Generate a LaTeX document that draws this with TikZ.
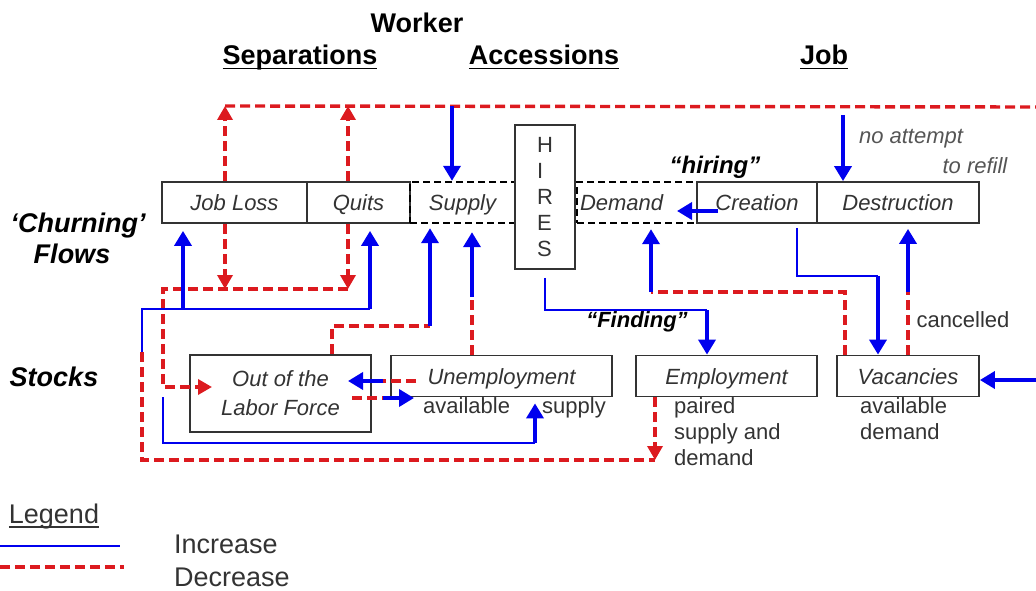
\documentclass[tikz,border=0pt]{standalone}
\usepackage{fontspec}
\setmainfont{Liberation Sans}
\usetikzlibrary{arrows.meta}
\definecolor{lmInk}{HTML}{333333}
\definecolor{lmBlue}{HTML}{0000EE}
\definecolor{lmRed}{HTML}{DC1A1F}
\definecolor{lmGray}{HTML}{555555}
\newcommand\lmbox{\fontsize{22}{26}\selectfont}
\newcommand\lmhead{\fontsize{27}{32}\selectfont}
\newcommand\lmuline[1]{\setbox0\hbox{#1}\rlap{\rule[-4.5pt]{\wd0}{1.8pt}}\box0}
\tikzset{
  every picture/.style={font=\lmbox, text=lmInk},
  lm box/.style={draw=lmInk, line width=1.8pt, inner sep=0pt, fill=white,
    font=\lmbox\itshape},
  lm row/.style={lm box, minimum height=41pt, text height=16pt, text depth=0pt},
  lm pool/.style={draw=black, fill=none, line width=2.4pt, dash pattern=on 7pt off 4pt},
  lm head/.style={font=\lmhead\bfseries, text=black, inner sep=0pt, anchor=base},
  lm tag/.style={font=\lmhead\bfseries\itshape, text=black, inner sep=0pt, anchor=base},
  lm note/.style={font=\lmbox, inner sep=0pt, align=left},
  lm inc/.style={draw=lmBlue, line width=1.6pt},
  lm up/.style={draw=lmBlue, line width=3.6pt, line cap=butt,
    -{Triangle[length=15pt,width=17pt]}},
  lm dec/.style={draw=lmRed, line width=3.4pt, dash pattern=on 10pt off 5pt},
  lm cut/.style={lm dec, -{Triangle[length=14pt,width=15pt]}}
}

\begin{document}
\begin{tikzpicture}[x=1pt,y=-1pt]
  \useasboundingbox (0,0) rectangle (1036,591);
  % column heads
  \node[lm head] (worker) at (417,33) {Worker};
  \node[lm head] (sep) at (300,65) {\lmuline{Separations}};
  \node[lm head] (acc) at (544,65) {\lmuline{Accessions}};
  \node[lm head] (job) at (824,65) {\lmuline{Job}};
  \node[lm tag] (churn) at (78,232) {‘Churning’};
  \node[lm tag] (flows) at (72,263) {Flows};
  \node[lm tag] (stocks) at (54,386) {Stocks};

  % flow boxes
  \node[lm row, minimum width=145pt] (joblos) at (234.5,202.5) {Job Loss};
  \node[lm row, minimum width=103pt] (quits) at (358.5,202.5) {Quits};
  \node[lm row, lm pool, minimum width=105pt] (supply) at (462.5,202.5) {Supply};
  \node[lm row, lm pool, minimum width=120pt, text width=114pt, align=left,
    inner xsep=3pt] (demand) at (637,202.5) {Demand};
  \node[draw=lmInk, fill=white, line width=1.8pt, minimum width=60pt,
    minimum height=144pt, align=left] (hires) at (545,197) {H\\I\\R\\E\\S};
  \node[lm row, minimum width=120pt] (creation) at (757,202.5) {Creation};
  \node[lm row, minimum width=162pt] (destr) at (898,202.5) {Destruction};

  % stock boxes
  \node[lm box, minimum width=181pt, minimum height=77pt, align=center,
    font=\fontsize{22}{29}\selectfont\itshape] (olf) at (280.5,393.5) {Out of the\\Labor Force};
  \node[lm row, minimum width=221pt] (unemp) at (501.5,376) {Unemployment};
  \node[lm row, minimum width=181pt] (employ) at (726.5,376) {Employment};
  \node[lm row, minimum width=142pt] (vac) at (908,376) {Vacancies};

  % notes
  \node[lm note, anchor=base west] (uAvail) at (423,413) {available};
  \node[lm note, anchor=base west] (uSupply) at (542,413) {supply};
  \node[lm note, anchor=north west] (ePaired) at (674,397) {paired\\supply and\\demand};
  \node[lm note, anchor=north west] (vAvail) at (860,397) {available\\demand};
  \node[lm note, anchor=base] (cancel) at (963,327) {cancelled};
  \node[lm note, anchor=base, text=lmGray, font=\lmbox\itshape] (noTry) at (911,144) {no attempt};
  \node[lm note, anchor=base, text=lmGray, font=\lmbox\itshape] (refill) at (975,173) {to refill};
  \node[lm tag, font=\fontsize{24}{28}\selectfont\bfseries\itshape] (hiring) at (715,173) {“hiring”};
  \node[lm tag, font=\lmbox\bfseries\itshape] (finding) at (637,327) {“Finding”};

  % junction points
  \coordinate (topL) at (225,106);
  \coordinate (topQ) at (348,106);
  \coordinate (topS) at (452,106);
  \coordinate (topR) at (1036,107);
  \coordinate (botL) at (225,289);
  \coordinate (botQ) at (348,289);
  \coordinate (botC) at (163,289);
  \coordinate (olfIn) at (212,387);
  \coordinate (olfSw) at (163,397);
  \coordinate (suKnee) at (535,443);
  \coordinate (loopSw) at (142,352);
  \coordinate (loopTop) at (142,309);
  \coordinate (loopBot) at (142,460);
  \coordinate (jlFoot) at (183,309);
  \coordinate (qFoot) at (370,309);
  \coordinate (empDown) at (655,460);
  \coordinate (olfOut) at (332,326);
  \coordinate (sAFoot) at (430,326);
  \coordinate (sBFoot) at (472,297);
  \coordinate (uLeftA) at (416,381);
  \coordinate (swA) at (383,381);
  \coordinate (olfTip) at (348,381);
  \coordinate (olfOff) at (352,398);
  \coordinate (swB) at (383,398);
  \coordinate (uTip) at (414,398);
  \coordinate (hiKnee) at (545,310);
  \coordinate (fiFoot) at (707,310);
  \coordinate (crOut) at (718,211);
  \coordinate (dmTip) at (677,211);
  \coordinate (naTop) at (843,115);
  \coordinate (crKnee) at (797,276);
  \coordinate (vcFoot) at (878,276);
  \coordinate (cnFoot) at (908,292);
  \coordinate (vdKnee) at (845,292);
  \coordinate (dmFoot) at (651,292);
  \coordinate (vcIn) at (1036,380);

  % separations loop
  \draw[lm dec] (topL) -- (topR);
  \draw[lm cut] (joblos.north -| topL) -- (topL);
  \draw[lm cut] (quits.north -| topQ) -- (topQ);
  \draw[lm cut] (joblos.south -| botL) -- (botL);
  \draw[lm cut] (quits.south -| botQ) -- (botQ);
  \draw[lm cut] (botQ) -- (botC) |- (olfIn);
  \draw[lm inc] (olfSw) |- (suKnee);
  \draw[lm up, shorten >=6pt] (suKnee) -- (unemp.south -| suKnee);
  \draw[lm dec] (loopSw) -- (loopBot) -- (empDown);
  \draw[lm cut] (employ.south -| empDown) -- (empDown);
  \draw[lm inc] (loopSw) -- (loopTop) -- (qFoot);
  \draw[lm up, shorten >=7pt] (jlFoot) -- (joblos.south -| jlFoot);
  \draw[lm up, shorten >=7pt] (qFoot) -- (quits.south -| qFoot);

  % supply side
  \draw[lm up] (topS) -- (supply.north -| topS);
  \draw[lm dec] (olf.north -| olfOut) -- (olfOut) -- (sAFoot);
  \draw[lm up, shorten >=4pt] (sAFoot) -- (supply.south -| sAFoot);
  \draw[lm dec] (unemp.north -| sBFoot) -- (sBFoot);
  \draw[lm up, shorten >=8pt] (sBFoot) -- (supply.south -| sBFoot);
  \draw[lm dec] (uLeftA) -- (swA);
  \draw[lm up] (swA) -- (olfTip);
  \draw[lm dec] (olfOff) -- (swB);
  \draw[lm up] (swB) -- (uTip);

  % hires and job side
  \draw[lm inc] ([yshift=-8pt]hires.south) -- (hiKnee) -- (fiFoot);
  \draw[lm up] (fiFoot) -- (employ.north -| fiFoot);
  \draw[lm up] (crOut) -- (dmTip);
  \draw[lm up] (naTop) -- (destr.north -| naTop);
  \draw[lm inc] ([yshift=-4pt]creation.south -| crKnee) -- (crKnee) -- (vcFoot);
  \draw[lm up] (vcFoot) -- (vac.north -| vcFoot);
  \draw[lm dec] (vac.north -| cnFoot) -- (cnFoot);
  \draw[lm up, shorten >=5pt] (cnFoot) -- (destr.south -| cnFoot);
  \draw[lm dec] (vac.north -| vdKnee) -- (vdKnee) -- (dmFoot);
  \draw[lm up, shorten >=5pt] (dmFoot) -- (demand.south -| dmFoot);
  \draw[lm up] (vcIn) -- (vac.east |- vcIn);

  % legend
  \node[lm note, anchor=base, font=\lmhead] (legend) at (54,523) {\lmuline{Legend}};
  \draw[lm inc] (0,546) -- (120,546);
  \draw[lm dec] (0,567) -- (124,567);
  \node[lm note, anchor=base west, font=\lmhead] (incr) at (174,553) {Increase};
  \node[lm note, anchor=base west, font=\lmhead] (decr) at (174,586) {Decrease};
\end{tikzpicture}
\end{document}
